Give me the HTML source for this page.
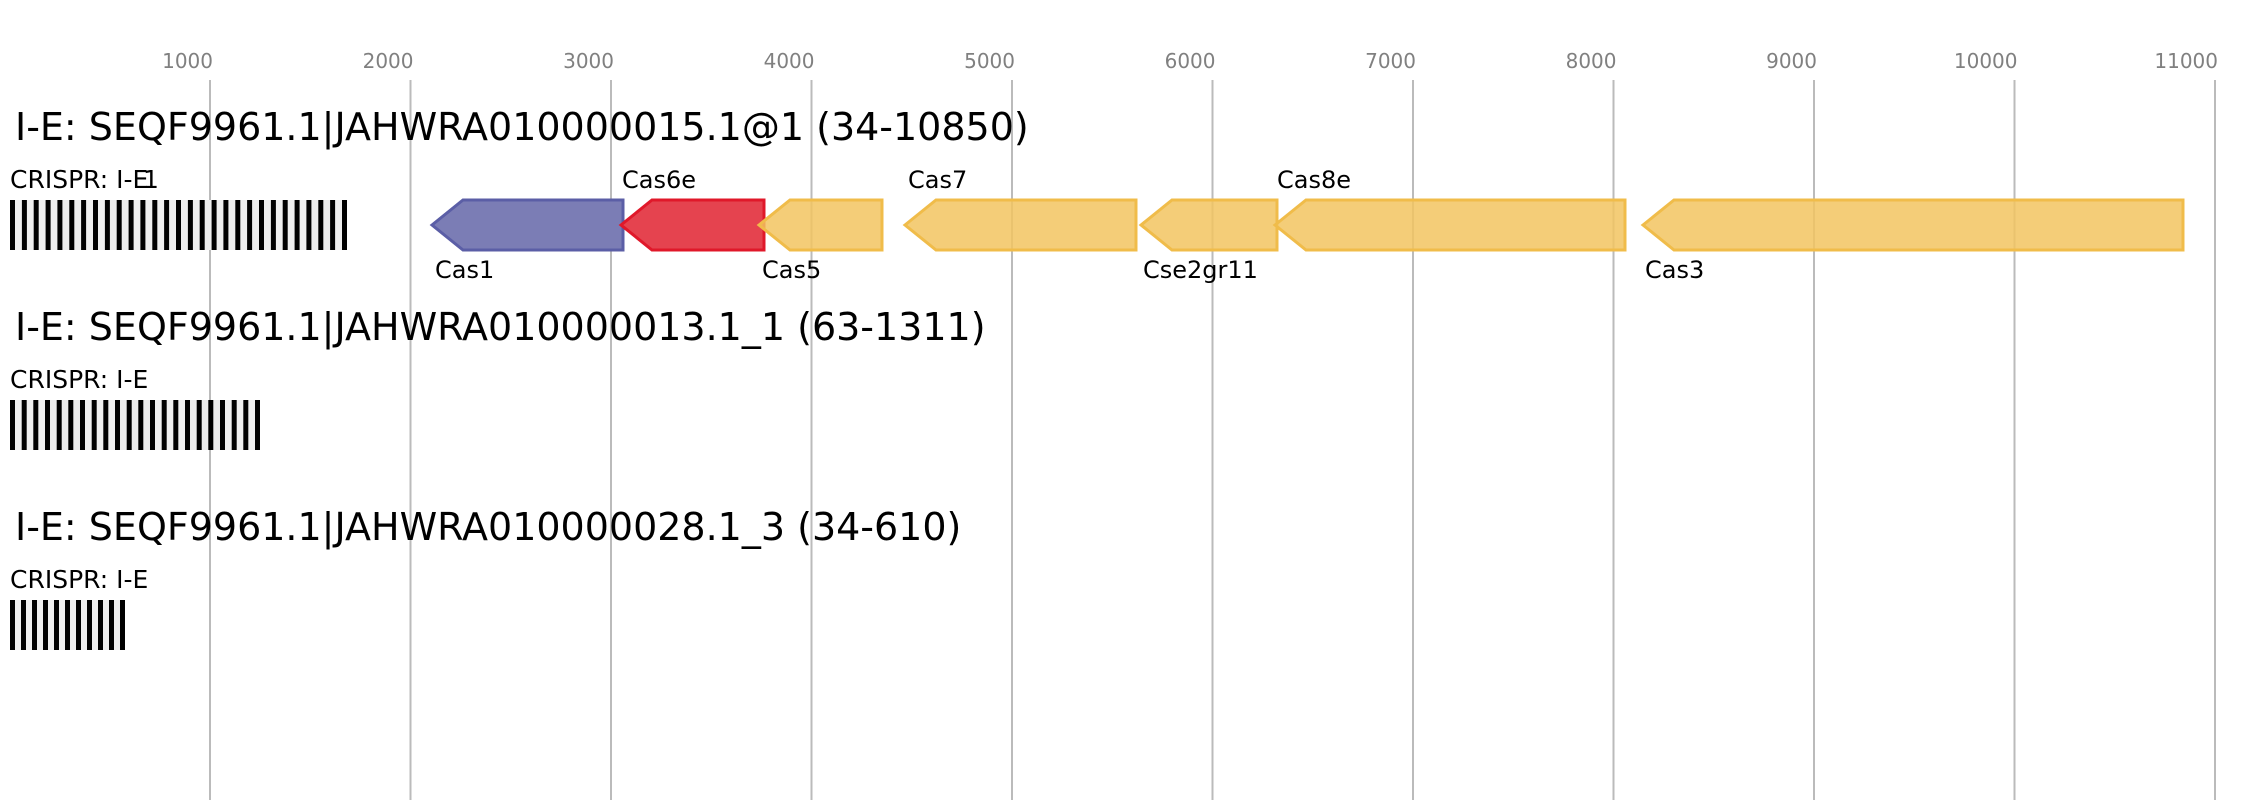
<!DOCTYPE html>
<html><head><meta charset="utf-8"><style>
html,body{margin:0;padding:0;background:#fff;}
svg{display:block;}
text{font-family:"DejaVu Sans","Liberation Sans",sans-serif;}
</style></head><body>
<svg width="2263" height="800" viewBox="0 0 2263 800" xmlns="http://www.w3.org/2000/svg">
<g stroke="#bbb" stroke-width="2">
<line x1="210" y1="80" x2="210" y2="800"/>
<line x1="410.5" y1="80" x2="410.5" y2="800"/>
<line x1="611" y1="80" x2="611" y2="800"/>
<line x1="811.5" y1="80" x2="811.5" y2="800"/>
<line x1="1012" y1="80" x2="1012" y2="800"/>
<line x1="1212.5" y1="80" x2="1212.5" y2="800"/>
<line x1="1413" y1="80" x2="1413" y2="800"/>
<line x1="1613.5" y1="80" x2="1613.5" y2="800"/>
<line x1="1814" y1="80" x2="1814" y2="800"/>
<line x1="2014.5" y1="80" x2="2014.5" y2="800"/>
<line x1="2215" y1="80" x2="2215" y2="800"/>
</g>
<g fill="#808080" font-size="20" text-anchor="end">
<text x="213" y="68">1000</text><text x="413.5" y="68">2000</text><text x="614" y="68">3000</text>
<text x="814.5" y="68">4000</text><text x="1015" y="68">5000</text><text x="1215.5" y="68">6000</text>
<text x="1416" y="68">7000</text><text x="1616.5" y="68">8000</text><text x="1817" y="68">9000</text>
<text x="2017.5" y="68">10000</text><text x="2218" y="68">11000</text>
</g>
<g fill="#000" font-size="38">
<text x="15" y="140">I-E: SEQF9961.1|JAHWRA010000015.1@1 (34-10850)</text>
<text x="15" y="340">I-E: SEQF9961.1|JAHWRA010000013.1_1 (63-1311)</text>
<text x="15" y="540">I-E: SEQF9961.1|JAHWRA010000028.1_3 (34-610)</text>
</g>
<g fill="#000" font-size="25">
<text x="10" y="188">CRISPR: I-E</text><text x="143" y="188">1</text>
<text x="10" y="388">CRISPR: I-E</text>
<text x="10" y="588">CRISPR: I-E</text>
</g>
<rect x="10" y="200" width="337" height="50" fill="#eee"/>
<rect x="10" y="400" width="250" height="50" fill="#eee"/>
<rect x="10" y="600" width="115" height="50" fill="#eee"/>
<g stroke-width="3" stroke-linejoin="miter">
<polygon points="432,225 463,200 623,200 623,250 463,250" fill="#7b7db5" stroke="#5b5ea6"/>
<polygon points="621,225 652,200 764,200 764,250 652,250" fill="#e5434f" stroke="#e0182a"/>
<polygon points="759,225 790,200 882,200 882,250 790,250" fill="#f2c460" fill-opacity="0.85" stroke="#f0bc4a"/>
<polygon points="905,225 936,200 1136,200 1136,250 936,250" fill="#f2c460" fill-opacity="0.85" stroke="#f0bc4a"/>
<polygon points="1141,225 1172,200 1277,200 1277,250 1172,250" fill="#f2c460" fill-opacity="0.85" stroke="#f0bc4a"/>
<polygon points="1275,225 1306,200 1625,200 1625,250 1306,250" fill="#f2c460" fill-opacity="0.85" stroke="#f0bc4a"/>
<polygon points="1643,225 1674,200 2183,200 2183,250 1674,250" fill="#f2c460" fill-opacity="0.85" stroke="#f0bc4a"/>
</g>
<g fill="#000" font-size="24">
<text x="435" y="278">Cas1</text>
<text x="622" y="188">Cas6e</text>
<text x="762" y="278">Cas5</text>
<text x="908" y="188">Cas7</text>
<text x="1143" y="278">Cse2gr11</text>
<text x="1277" y="188">Cas8e</text>
<text x="1645" y="278">Cas3</text>
</g>
<g fill="#000">
<rect x="10" y="200" width="5" height="50"/><rect x="21.9" y="200" width="5" height="50"/><rect x="33.7" y="200" width="5" height="50"/><rect x="45.6" y="200" width="5" height="50"/><rect x="57.4" y="200" width="5" height="50"/><rect x="69.3" y="200" width="5" height="50"/><rect x="81.1" y="200" width="5" height="50"/><rect x="93" y="200" width="5" height="50"/><rect x="104.9" y="200" width="5" height="50"/><rect x="116.7" y="200" width="5" height="50"/><rect x="128.6" y="200" width="5" height="50"/><rect x="140.4" y="200" width="5" height="50"/><rect x="152.3" y="200" width="5" height="50"/><rect x="164.1" y="200" width="5" height="50"/><rect x="176" y="200" width="5" height="50"/><rect x="187.9" y="200" width="5" height="50"/><rect x="199.7" y="200" width="5" height="50"/><rect x="211.6" y="200" width="5" height="50"/><rect x="223.4" y="200" width="5" height="50"/><rect x="235.3" y="200" width="5" height="50"/><rect x="247.1" y="200" width="5" height="50"/><rect x="259" y="200" width="5" height="50"/><rect x="270.9" y="200" width="5" height="50"/><rect x="282.7" y="200" width="5" height="50"/><rect x="294.6" y="200" width="5" height="50"/><rect x="306.4" y="200" width="5" height="50"/><rect x="318.3" y="200" width="5" height="50"/><rect x="330.1" y="200" width="5" height="50"/><rect x="342" y="200" width="5" height="50"/>
<rect x="10" y="400" width="5" height="50"/><rect x="21.7" y="400" width="5" height="50"/><rect x="33.3" y="400" width="5" height="50"/><rect x="45" y="400" width="5" height="50"/><rect x="56.7" y="400" width="5" height="50"/><rect x="68.3" y="400" width="5" height="50"/><rect x="80" y="400" width="5" height="50"/><rect x="91.7" y="400" width="5" height="50"/><rect x="103.3" y="400" width="5" height="50"/><rect x="115" y="400" width="5" height="50"/><rect x="126.7" y="400" width="5" height="50"/><rect x="138.3" y="400" width="5" height="50"/><rect x="150" y="400" width="5" height="50"/><rect x="161.7" y="400" width="5" height="50"/><rect x="173.3" y="400" width="5" height="50"/><rect x="185" y="400" width="5" height="50"/><rect x="196.7" y="400" width="5" height="50"/><rect x="208.3" y="400" width="5" height="50"/><rect x="220" y="400" width="5" height="50"/><rect x="231.7" y="400" width="5" height="50"/><rect x="243.3" y="400" width="5" height="50"/><rect x="255" y="400" width="5" height="50"/>
<rect x="10" y="600" width="5" height="50"/><rect x="21" y="600" width="5" height="50"/><rect x="32" y="600" width="5" height="50"/><rect x="43" y="600" width="5" height="50"/><rect x="54" y="600" width="5" height="50"/><rect x="65" y="600" width="5" height="50"/><rect x="76" y="600" width="5" height="50"/><rect x="87" y="600" width="5" height="50"/><rect x="98" y="600" width="5" height="50"/><rect x="109" y="600" width="5" height="50"/><rect x="120" y="600" width="5" height="50"/>
</g>
</svg>
</body></html>
